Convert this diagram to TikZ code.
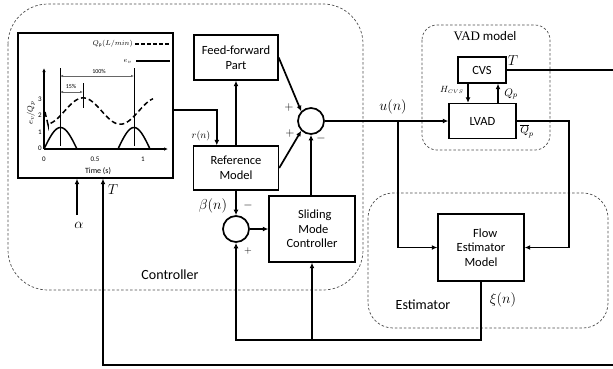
\documentclass[tikz,border=0pt]{standalone}
\usepackage{fontspec}
\setmainfont{Carlito}
\newfontfamily\serifv{Liberation Serif}
\usetikzlibrary{arrows.meta,calc}
\begin{document}
\begin{tikzpicture}[x=1pt,y=-1pt,
  blk/.style={draw,line width=1.4pt,align=center,font=\fontsize{12.5}{14.5}\selectfont,inner sep=1pt},
  ln/.style={line width=1.7pt},
  arr/.style={line width=1.7pt,-{Latex[length=5.5pt,width=5pt]}},
  grp/.style={draw=black!70,dashed,dash pattern=on 2.5pt off 2pt,line width=0.7pt},
  sumc/.style={draw,circle,line width=1.7pt,minimum size=26pt,inner sep=0pt},
  lab/.style={font=\fontsize{13}{15}\selectfont,inner sep=0pt},
  sml/.style={font=\fontsize{10}{11}\selectfont,inner sep=0pt},
  big/.style={font=\fontsize{14}{16}\selectfont,inner sep=0pt},
  tiny/.style={font=\fontsize{7}{8}\selectfont,inner sep=0pt}]
\useasboundingbox (0,0) rectangle (613,368);

% group boxes
\draw[grp,rounded corners=40pt] (8,4) rectangle (363,290);
\draw[grp,rounded corners=15pt] (422,25) rectangle (550,150);
\draw[grp,rounded corners=25pt] (368,193) rectangle (608,328);
\node[font=\fontsize{14}{16}\selectfont] (lctrl) at (170,275) {Controller};
\node[font=\fontsize{14}{16}\selectfont] (lest) at (423,305) {Estimator};
\node[font=\fontsize{13}{15}\selectfont,inner sep=0pt] (lvadm) at (485,36) {{\serifv VAD} model};

% blocks
\node[draw,line width=1.4pt,minimum width=155pt,minimum height=145pt,inner sep=0pt] (plot) at (95.5,105.5) {};
\node[blk,minimum width=84pt,minimum height=45pt] (ff) at (236,57.5) {Feed-forward\\Part};
\node[blk,minimum width=85pt,minimum height=44pt] (ref) at (236,168) {Reference\\Model};
\node[blk,minimum width=86pt,minimum height=66pt] (smc) at (312,229) {\ \ Sliding\\\ Mode\\Controller};
\node[blk,minimum width=48pt,minimum height=26pt] (cvs) at (482,70) {CVS};
\node[blk,minimum width=67pt,minimum height=35pt] (lvad) at (482.5,121) {LVAD};
\node[blk,minimum width=86pt,minimum height=67pt] (fem) at (481,247.5) {\ \ \ Flow\\Estimator\\Model};
\node[sumc] (s1) at (311,121) {};
\node[sumc] (s2) at (236,229) {};

% connectors
\coordinate (rin) at ($(ref.north west)+(24,0)$);
\draw[arr] ($(plot.east)+(0,4.5)$) -| (rin);
\draw[arr] (ref.north) -- (ff.south);
\draw[arr] (ff.east) -- (s1.135);
\draw[arr] (ref.east) -- (s1.225);
\draw[arr] (smc.north -| s1.south) -- (s1.south);
\draw[arr] (s1.east) -- (lvad.west);
\coordinate (ub) at (398,121);
\draw[arr] (ub) |- (fem.west);
\coordinate (qr) at (569,121);
\draw[arr] (lvad.east) -- (qr) |- (fem.east);
\coordinate (tr) at (613,70);
\draw[ln] (cvs.east) -- (tr);
\draw[arr] (cvs.south -| 468,0) -- (lvad.north -| 468,0);
\draw[arr] (lvad.north -| 498,0) -- (cvs.south -| 498,0);
\coordinate (fb) at (236,340);
\draw[arr] (fem.south) |- (fb) -- (s2.south);
\coordinate (sb) at (312,340);
\draw[arr] (sb) -- (smc.south);
\draw[arr] (ref.south) -- (s2.north);
\draw[arr] (s2.east) -- (smc.west);
\coordinate (al) at (77,215);
\draw[arr] (al) -- (al |- plot.south);
\coordinate (br) at (613,365);
\draw[arr] (br) -| (plot.south -| 103,0);

% labels
\node[sml] at (201,136) {$r(n)$};
\node[lab] at (289,107) {$+$};
\node[lab] at (290,133) {$+$};
\node[lab] at (321,138) {$-$};
\node[big] at (393,107) {$u(n)$};
\node[big] at (213,206) {$\beta(n)$};
\node[lab] at (248,205) {$-$};
\node[sml] at (248,251) {$+$};
\node[font=\fontsize{9}{10}\selectfont,inner sep=0pt] at (452,90) {$H_{\scriptscriptstyle CVS}$};
\node[font=\fontsize{11}{12}\selectfont,inner sep=0pt] at (511,94) {$Q_p$};
\node[big] at (513,61) {$T$};
\node[font=\fontsize{11}{12}\selectfont,inner sep=0pt] at (527,131) {$\overline{Q}_p$};
\node[big] at (503,300) {$\xi(n)$};
\node[big] at (113,190) {$T$};
\node[big] at (79,225) {$\alpha$};

% plot contents
\draw[line width=1.3pt,-{Latex[length=4pt,width=3.5pt]}] (44,149) -- (44,68);
\draw[line width=1.3pt,-{Latex[length=4pt,width=3.5pt]}] (44,149) -- (168,149);
\node[tiny] at (40,148) {0};
\node[tiny] at (40,132) {1};
\node[tiny] at (40,115) {2};
\node[tiny] at (40,99) {3};
\node[tiny] at (44,159) {0};
\node[tiny] at (95,159) {0.5};
\node[tiny] at (143,159) {1};
\node[font=\fontsize{8}{9}\selectfont,inner sep=0pt] at (98,171) {Time (s)};
\node[font=\fontsize{8.5}{9}\selectfont,inner sep=0pt,rotate=90] at (31,113) {$e_v/Q_p$};
\node[font=\fontsize{7.5}{8}\selectfont,inner sep=0pt,anchor=east] at (133,44) {$Q_{\mathrm{p}}(L/min)$};
\draw[line width=1.5pt,dash pattern=on 4pt off 2pt] (135,44) -- (170,44);
\node[font=\fontsize{7.5}{8}\selectfont,inner sep=0pt,anchor=east] at (132,61) {$e_v$};
\draw[line width=1.5pt] (136,61) -- (170,61);
\draw[line width=0.7pt] (60,68) -- (60,146);
\draw[line width=0.7pt] (134,68) -- (134,146);
\draw[line width=0.7pt] (83,83) -- (83,108);
\draw[black!60,line width=0.6pt,{Latex[length=3pt,width=2.5pt]}-{Latex[length=3pt,width=2.5pt]}] (60,76) -- (134,76);
\draw[black!60,line width=0.6pt,{Latex[length=3pt,width=2.5pt]}-{Latex[length=3pt,width=2.5pt]}] (60,92) -- (83,92);
\node[font=\fontsize{6}{7}\selectfont,inner sep=0pt] at (99,71) {100\%};
\node[font=\fontsize{6}{7}\selectfont,inner sep=0pt] at (71,86) {15\%};
\draw[line width=1.5pt,dash pattern=on 5pt off 3pt] (45,112) -- (48,124.5)
  -- plot[domain=48:153,samples=60] (\x,{149-16.5*(2.3+0.8*cos(360*((\x-44)/99-0.395)/0.75))});
\draw[line width=1.5pt] plot[domain=44:77,samples=30] (\x,{149-21.5*sin(180*(\x-44)/33)})
  -- (118,149) -- plot[domain=118:150,samples=30] (\x,{149-21.5*sin(180*(\x-118)/32)});
\end{tikzpicture}
\end{document}
